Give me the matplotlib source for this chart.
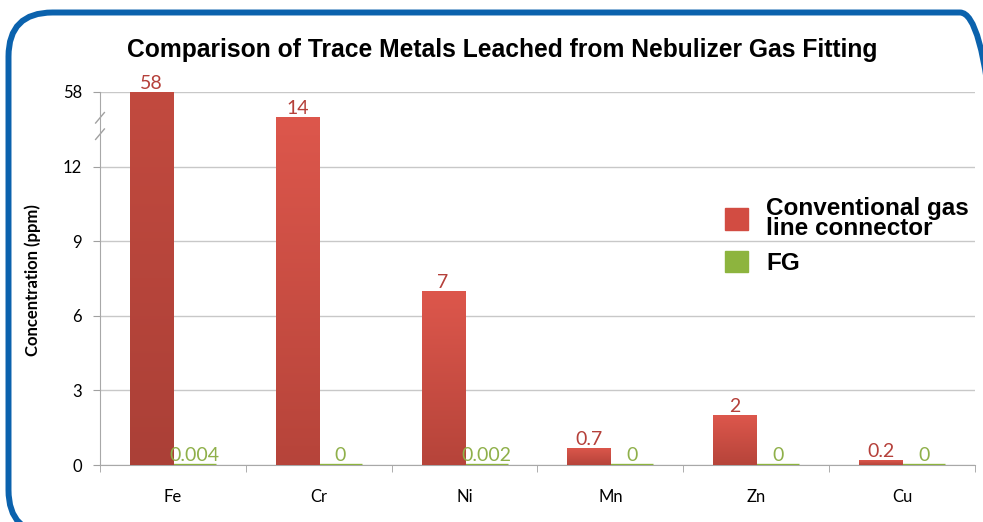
import numpy as np
import matplotlib.pyplot as plt
from matplotlib.patches import FancyBboxPatch, Patch
from matplotlib.lines import Line2D
from matplotlib.colors import LinearSegmentedColormap
from matplotlib.transforms import IdentityTransform

metals = ["Fe", "Cr", "Ni", "Mn", "Zn", "Cu"]
conventional = [58, 14, 7, 0.7, 2, 0.2]
fg = [0.004, 0, 0.002, 0, 0, 0]
conv_labels = ["58", "14", "7", "0.7", "2", "0.2"]
fg_labels = ["0.004", "0", "0.002", "0", "0", "0"]
yticks = [0, 3, 6, 9, 12, 58]

red = "#d24c42"
green = "#8db43e"
# top/bottom shades for the red bar fill
shades = [("#c24a3f", "#ab4037")] + [("#dd574c", "#b6443a")] * 5


# broken axis: linear up to 14, everything above squeezed so 58 sits one step over 12
def fwd(v):
    v = np.asarray(v, dtype=float)
    return np.where(v <= 14, v, 14 + (v - 14) / 44)


def inv(y):
    y = np.asarray(y, dtype=float)
    return np.where(y <= 14, y, 14 + (y - 14) * 44)


fig = plt.figure(figsize=(9.83, 5.22), dpi=100)
ax = fig.add_axes([100 / 983, 1 - 465 / 522, 875 / 983, (465 - 92) / 522])
ax.set_yscale("function", functions=(fwd, inv))
ax.set_ylim(0, 58)
ax.set_xlim(-0.5, len(metals) - 0.5)

x = np.arange(len(metals))
w = 0.295
b1 = ax.bar(x - w / 2, conventional, w, color=red, zorder=3)
b2 = ax.bar(x + w / 2, fg, w, color=green, edgecolor=green, linewidth=2.4, zorder=3)

# vertical gradient inside each red bar
grad = np.linspace(0, 1, 256).reshape(-1, 1)
for bar, (top, bot) in zip(b1, shades):
    bb = bar.get_window_extent().transformed(ax.transAxes.inverted())
    cmap = LinearSegmentedColormap.from_list("bar", [top, bot])
    im = ax.imshow(grad, cmap=cmap, extent=(bb.x0, bb.x1, bb.y0, bb.y1),
                   transform=ax.transAxes, aspect="auto", origin="upper",
                   zorder=3.5, interpolation="bilinear")
    im.set_clip_path(bar)
ax.set_ylim(0, 58)
ax.set_xlim(-0.5, len(metals) - 0.5)

for xi, v, s in zip(x, conventional, conv_labels):
    ax.annotate(s, (xi - w / 2, v), xytext=(0, 0), textcoords="offset points",
                ha="center", va="bottom", fontsize=14, color="#b5403a",
                family="Lato", annotation_clip=False, zorder=5)
for xi, v, s in zip(x, fg, fg_labels):
    ax.annotate(s, (xi + w / 2, v), xytext=(0, 1), textcoords="offset points",
                ha="center", va="bottom", fontsize=14, color="#8fb04a",
                family="Lato", annotation_clip=False, zorder=5)

ax.set_yticks(yticks)
ax.set_yticklabels([str(t) for t in yticks], family="Lato", fontsize=12)
ax.set_xticks(x)
ax.set_xticklabels(metals, family="Lato", fontsize=12)
ax.set_xticks(np.arange(-0.5, len(metals)), minor=True)
ax.tick_params(axis="x", which="major", length=0, pad=17)
ax.tick_params(axis="x", which="minor", length=5, color="#a0a0a0")
ax.tick_params(axis="y", length=5, color="#a0a0a0", pad=8)
ax.grid(axis="y", color="#c8c8c8", linewidth=1, zorder=0)
for side in ["top", "right"]:
    ax.spines[side].set_visible(False)
for side in ["left", "bottom"]:
    ax.spines[side].set_color("#a8a8a8")

# break marks on the value axis
yb = (465 - 126) / (465 - 92)
for dy in (-0.022, 0.022):
    ax.add_line(Line2D([-0.005, 0.005], [yb + dy - 0.014, yb + dy + 0.014],
                       transform=ax.transAxes, color="#a0a0a0", lw=1,
                       clip_on=False))

fig.text(33 / 983, 1 - 280 / 522, "Concentration (ppm)", rotation=90,
         ha="center", va="center", family="Lato", fontweight="bold",
         fontsize=12)

fig.text(502 / 983, 1 - 50 / 522,
         "Comparison of Trace Metals Leached from Nebulizer Gas Fitting",
         ha="center", va="center", fontsize=17.7, fontweight="bold",
         family="Liberation Sans")

handles = [Patch(color=red), Patch(color=green)]
leg = fig.legend(handles, ["Conventional gas\nline connector", "FG"],
                 loc="upper left", bbox_to_anchor=(725 / 983, 1 - 197 / 522),
                 frameon=False, borderpad=0, borderaxespad=0,
                 handlelength=0.95, handleheight=1.0,
                 handletextpad=0.75, labelspacing=0.42,
                 prop={"family": "Liberation Sans", "weight": "bold", "size": 17.5})
for t in leg.get_texts():
    t.set_linespacing(0.85)

# rounded blue frame, in pixels from the lower left corner
frame = FancyBboxPatch((8.5, -12), 1004 - 8.5, 509.5 + 12,
                       boxstyle="round,pad=0,rounding_size=44",
                       transform=IdentityTransform(), fill=False,
                       edgecolor="#0b62ad", linewidth=4.3, clip_on=False)
fig.add_artist(frame)

fig.savefig("out.png", dpi=100)
